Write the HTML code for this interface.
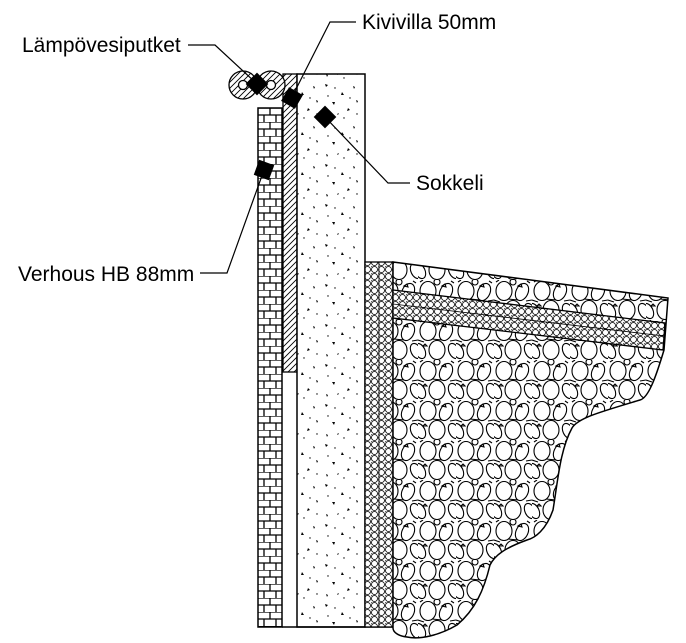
<!DOCTYPE html>
<html><head><meta charset="utf-8"><style>
html,body{margin:0;padding:0;background:#fff;}
svg{display:block;}
text{font-family:"Liberation Sans",sans-serif;font-size:21px;fill:#000;}
</style></head><body>
<svg width="686" height="643" viewBox="0 0 686 643" xmlns="http://www.w3.org/2000/svg">
<defs>
<pattern id="brick" width="24" height="14" patternUnits="userSpaceOnUse" x="258" y="108">
<rect width="24" height="14" fill="#fff"/>
<path d="M0 0H24M0 7H24M12 0V7M6 7V14M18 7V14" stroke="#000" stroke-width="1.3" fill="none"/>
</pattern>
<pattern id="hatch" width="6" height="6" patternUnits="userSpaceOnUse">
<rect width="6" height="6" fill="#fff"/>
<path d="M0 6L6 0M-1 1L1 -1M5 7L7 5" stroke="#000" stroke-width="0.9"/>
</pattern>
<pattern id="conc" width="40" height="40" patternUnits="userSpaceOnUse">
<rect width="40" height="40" fill="#fff"/>
<path d="M5 4l3 1-2 2zM22 12l2 3-3 0zM33 6l2 1-1 2zM12 22l3 0-1 3zM28 28l2 2-3 1zM6 34l2 1-1 2zM18 33l1 1-2 1zM36 20l2 1-1 2z" fill="#000"/>
<circle cx="15" cy="8" r="0.7"/><circle cx="30" cy="18" r="0.7"/><circle cx="8" cy="16" r="0.7"/><circle cx="24" cy="38" r="0.7"/><circle cx="37" cy="34" r="0.7"/>
</pattern>
<pattern id="grav" width="7" height="7" patternUnits="userSpaceOnUse">
<rect width="7" height="7" fill="#fff"/>
<circle cx="3.5" cy="3.5" r="3" fill="none" stroke="#000" stroke-width="0.8"/>
<circle cx="0" cy="0" r="1" fill="none" stroke="#000" stroke-width="0.6"/>
</pattern>
<pattern id="stone" width="38" height="40" patternUnits="userSpaceOnUse">
<rect width="38" height="40" fill="#fff"/>
<g fill="none" stroke="#000" stroke-width="1.1">
<ellipse cx="10" cy="11" rx="8" ry="9.5"/>
<ellipse cx="28" cy="12" rx="6" ry="9" transform="rotate(25 28 12)"/>
<ellipse cx="19" cy="30" rx="8" ry="9.5"/>
<ellipse cx="2" cy="31" rx="5" ry="8" transform="rotate(-25 2 31)"/>
<ellipse cx="36" cy="31" rx="5" ry="8" transform="rotate(-25 36 31)"/>
<circle cx="19" cy="2" r="3"/>
<path d="M0 20L6 22M32 21L38 20M14 19L24 20M2 2L5 0M33 1L36 3"/>
<path d="M24 6l3 -2 1 3z M5 26l2 -2 2 2z"/>
</g>
</pattern>
</defs>

<rect x="258" y="108" width="24" height="519" fill="url(#brick)" stroke="#000" stroke-width="1.5"/>
<rect x="283" y="74" width="14" height="298" fill="url(#hatch)" stroke="#000" stroke-width="1.3"/>
<rect x="297" y="74" width="68" height="553" fill="url(#conc)" stroke="#000" stroke-width="1.5"/>
<line x1="282" y1="627" x2="393" y2="627" stroke="#000" stroke-width="1.5"/>
<rect x="365" y="262" width="28" height="365" fill="url(#grav)" stroke="#000" stroke-width="1.3"/>
<line x1="379" y1="262" x2="379" y2="627" stroke="#000" stroke-width="0.8"/>
<path d="M393 262 L668 298 L664 350 C655 380 648 398 640 400 C600 412 578 418 572 428 C560 450 558 480 553 510 C546 530 535 538 527 540 C505 548 495 555 490 565 C484 590 475 610 457 625 C440 635 420 640 407 637 C398 636 393 632 393 628 Z" fill="url(#stone)" stroke="#000" stroke-width="1.5"/>
<path d="M393 290 L665 323 L663 350 L393 318 Z" fill="url(#grav)" stroke="#000" stroke-width="1.3"/>
<line x1="393" y1="304" x2="664" y2="336" stroke="#000" stroke-width="0.8"/>

<g stroke="#000" stroke-width="1.3">
<circle cx="243" cy="85" r="14" fill="url(#hatch)"/>
<circle cx="271" cy="85" r="14" fill="url(#hatch)"/>
<circle cx="243" cy="85" r="4.5" fill="#fff"/>
<circle cx="271" cy="85" r="4.5" fill="#fff"/>
</g>

<g stroke="#000" stroke-width="1.2" fill="none">
<path d="M188 45 H215 L256 83"/>
<path d="M356 22 H330 L292 97"/>
<path d="M410 183 H388 L325 117"/>
<path d="M200 273 H227 L264 170"/>
</g>
<g fill="#000">
<rect x="-8" y="-8" width="16" height="16" transform="translate(257,84) rotate(45)"/>
<rect x="-8" y="-8" width="16" height="16" transform="translate(292,98) rotate(30)"/>
<rect x="-8" y="-8" width="16" height="16" transform="translate(325,117) rotate(45)"/>
<rect x="-8" y="-8" width="16" height="16" transform="translate(264,170) rotate(20)"/>
</g>

<text x="22" y="52">Lämpövesiputket</text>
<text x="362" y="29">Kivivilla 50mm</text>
<text x="416" y="190">Sokkeli</text>
<text x="18" y="281">Verhous HB 88mm</text>
</svg>
</body></html>
